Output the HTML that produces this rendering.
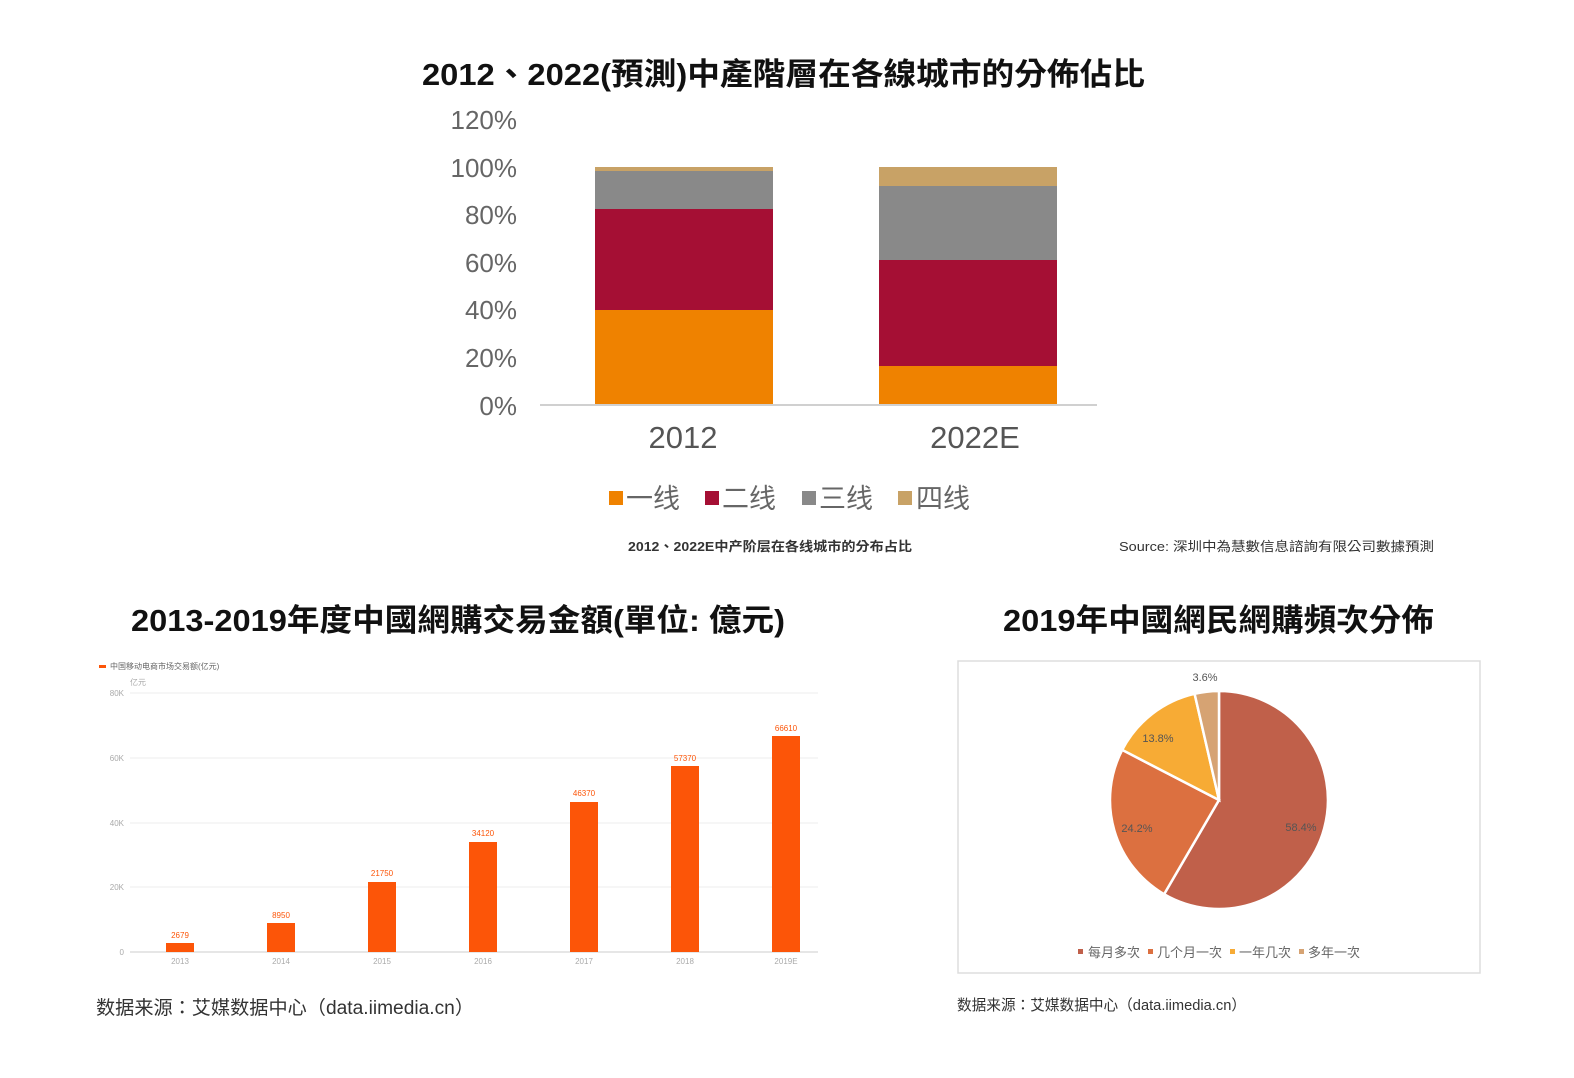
<!DOCTYPE html>
<html><head><meta charset="utf-8"><style>
body{margin:0;background:#fff;}
svg{display:block;}
</style></head><body>
<svg width="1574" height="1078" xmlns="http://www.w3.org/2000/svg" font-family="Liberation Sans, Noto Sans CJK TC, sans-serif">
<rect width="1574" height="1078" fill="#fff"/>
<text x="422" y="85" textLength="723" lengthAdjust="spacingAndGlyphs" font-size="31" font-weight="bold" fill="#111">2012、2022(預測)中產階層在各線城市的分佈佔比</text>
<g font-size="26" fill="#666" text-anchor="end">
<text x="517" y="129">120%</text>
<text x="517" y="177">100%</text>
<text x="517" y="224">80%</text>
<text x="517" y="272">60%</text>
<text x="517" y="319">40%</text>
<text x="517" y="367">20%</text>
<text x="517" y="415">0%</text>
</g>
<line x1="540" y1="405" x2="1097" y2="405" stroke="#d0d0d0" stroke-width="2"/>
<rect x="595" y="310" width="178" height="94" fill="#ef8200"/>
<rect x="595" y="209" width="178" height="101" fill="#a50f34"/>
<rect x="595" y="171" width="178" height="38" fill="#898989"/>
<rect x="595" y="167" width="178" height="4" fill="#c8a266"/>
<rect x="879" y="366" width="178" height="38" fill="#ef8200"/>
<rect x="879" y="260" width="178" height="106" fill="#a50f34"/>
<rect x="879" y="186" width="178" height="74" fill="#898989"/>
<rect x="879" y="167" width="178" height="19" fill="#c8a266"/>
<g font-size="31" fill="#555" text-anchor="middle">
<text x="683" y="448">2012</text>
<text x="975" y="448">2022E</text>
</g>
<g font-size="27" fill="#666">
<rect x="609" y="491" width="14" height="14" fill="#ef8200"/><text x="626" y="508">一线</text>
<rect x="705" y="491" width="14" height="14" fill="#a50f34"/><text x="722" y="508">二线</text>
<rect x="802" y="491" width="14" height="14" fill="#898989"/><text x="819" y="508">三线</text>
<rect x="898" y="491" width="14" height="14" fill="#c8a266"/><text x="916" y="508">四线</text>
</g>
<text x="628" y="551" textLength="284" lengthAdjust="spacingAndGlyphs" font-size="13" font-weight="bold" fill="#333">2012、2022E中产阶层在各线城市的分布占比</text>
<text x="1119" y="551" textLength="315" lengthAdjust="spacingAndGlyphs" font-size="13" fill="#333">Source: 深圳中為慧數信息諮詢有限公司數據預測</text>

<text x="131" y="631" textLength="654" lengthAdjust="spacingAndGlyphs" font-size="31" font-weight="bold" fill="#111">2013-2019年度中國網購交易金額(單位: 億元)</text>
<rect x="99" y="665" width="7" height="3" fill="#fc5508"/>
<text x="110" y="669" font-size="8" fill="#666">中国移动电商市场交易额(亿元)</text>
<text x="130" y="685" font-size="8" fill="#aaa">亿元</text>
<g stroke="#eee" stroke-width="1">
<line x1="130" y1="693" x2="818" y2="693"/>
<line x1="130" y1="758" x2="818" y2="758"/>
<line x1="130" y1="823" x2="818" y2="823"/>
<line x1="130" y1="887" x2="818" y2="887"/>
</g>
<line x1="130" y1="952" x2="818" y2="952" stroke="#ccc"/>
<g font-size="8" fill="#aaa" text-anchor="end">
<text x="124" y="696">80K</text><text x="124" y="761">60K</text><text x="124" y="826">40K</text><text x="124" y="890">20K</text><text x="124" y="955">0</text>
</g>
<g fill="#fc5508">
<rect x="166" y="943" width="28" height="9"/>
<rect x="267" y="923" width="28" height="29"/>
<rect x="368" y="882" width="28" height="70"/>
<rect x="469" y="842" width="28" height="110"/>
<rect x="570" y="802" width="28" height="150"/>
<rect x="671" y="766" width="28" height="186"/>
<rect x="772" y="736" width="28" height="216"/>
</g>
<g font-size="8" fill="#fc5508" text-anchor="middle">
<text x="180" y="938">2679</text><text x="281" y="918">8950</text><text x="382" y="876">21750</text><text x="483" y="836">34120</text><text x="584" y="796">46370</text><text x="685" y="761">57370</text><text x="786" y="731">66610</text>
</g>
<g font-size="8" fill="#aaa" text-anchor="middle">
<text x="180" y="964">2013</text><text x="281" y="964">2014</text><text x="382" y="964">2015</text><text x="483" y="964">2016</text><text x="584" y="964">2017</text><text x="685" y="964">2018</text><text x="786" y="964">2019E</text>
</g>
<text x="96" y="1014" textLength="378" lengthAdjust="spacingAndGlyphs" font-size="19" fill="#333">数据来源：艾媒数据中心（data.iimedia.cn）</text>

<text x="1003" y="631" textLength="431" lengthAdjust="spacingAndGlyphs" font-size="31" font-weight="bold" fill="#111">2019年中國網民網購頻次分佈</text>
<rect x="958" y="661" width="522" height="312" fill="#fff" stroke="#ddd" stroke-width="1.5"/>
<g stroke="#fff" stroke-width="2.5">
<path d="M1219,800 L1219,691 A109,109 0 1,1 1164.1,894.2 Z" fill="#c0604a"/>
<path d="M1219,800 L1164.1,894.2 A109,109 0 0,1 1122.2,749.9 Z" fill="#dc7040"/>
<path d="M1219,800 L1122.2,749.9 A109,109 0 0,1 1194.6,693.8 Z" fill="#f7ab35"/>
<path d="M1219,800 L1194.6,693.8 A109,109 0 0,1 1219,691 Z" fill="#d6a373"/>
</g>
<g font-size="11" fill="#555" text-anchor="middle">
<text x="1205" y="681">3.6%</text>
<text x="1158" y="742">13.8%</text>
<text x="1137" y="832">24.2%</text>
<text x="1301" y="831">58.4%</text>
</g>
<g font-size="13" fill="#666">
<rect x="1078" y="949" width="5" height="5" fill="#c0604a"/><text x="1088" y="957">每月多次</text>
<rect x="1148" y="949" width="5" height="5" fill="#dc7040"/><text x="1157" y="957">几个月一次</text>
<rect x="1230" y="949" width="5" height="5" fill="#f7ab35"/><text x="1239" y="957">一年几次</text>
<rect x="1299" y="949" width="5" height="5" fill="#d6a373"/><text x="1308" y="957">多年一次</text>
</g>
<text x="957" y="1010" textLength="289" lengthAdjust="spacingAndGlyphs" font-size="15" fill="#333">数据来源：艾媒数据中心（data.iimedia.cn）</text>
</svg>
</body></html>
